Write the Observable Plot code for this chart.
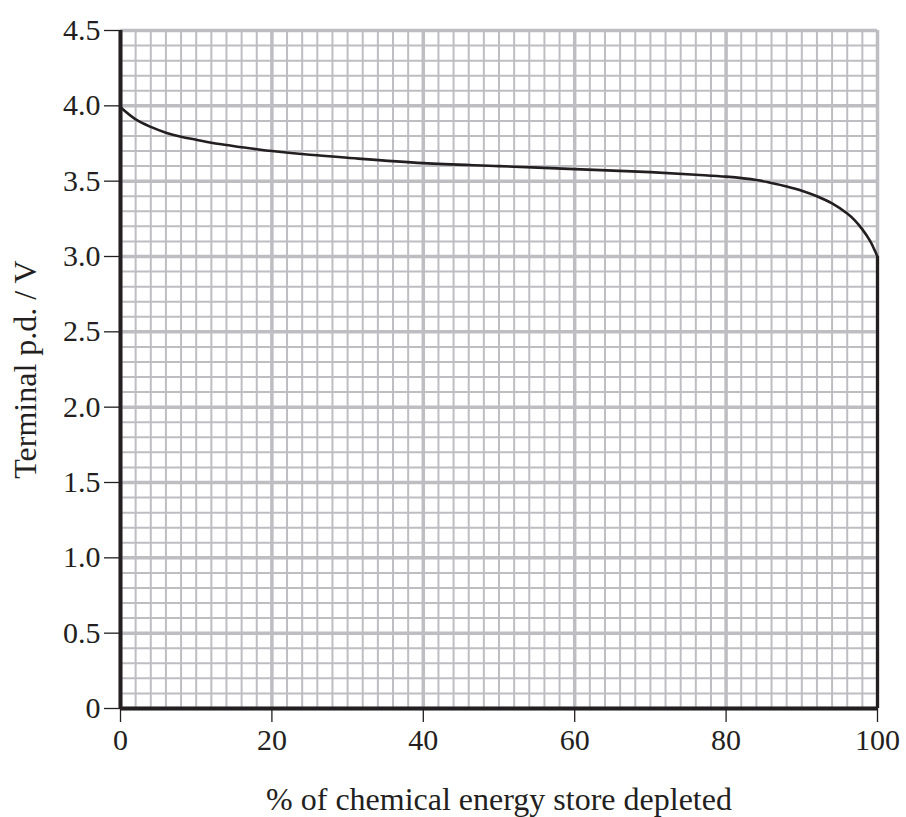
<!DOCTYPE html>
<html>
<head>
<meta charset="utf-8">
<script src="https://cdn.jsdelivr.net/npm/d3@7"></script>
<script src="https://cdn.jsdelivr.net/npm/@observablehq/plot@0.6"></script>
<style>
  html, body { margin: 0; padding: 0; background: #fff; }
</style>
</head>
<body>
<div id="chart"></div>
<script>
// Discharge curve
const depleted = [0, 2, 4, 6, 8, 10, 12, 14, 16, 18, 20, 25, 30, 40, 50, 60, 70, 76, 80, 84, 86, 88, 90, 92, 94, 96, 97, 98, 99, 99.5, 100];
const voltage  = [3.99, 3.91, 3.86, 3.822, 3.795, 3.775, 3.755, 3.74, 3.725, 3.712, 3.70, 3.675, 3.655, 3.62, 3.60, 3.58, 3.56, 3.543, 3.53, 3.508, 3.488, 3.465, 3.437, 3.40, 3.352, 3.285, 3.24, 3.18, 3.105, 3.055, 3.00];

// Axis ticks
const xTicks = [0, 20, 40, 60, 80, 100];
const yTicks = [0, 0.5, 1.0, 1.5, 2.0, 2.5, 3.0, 3.5, 4.0, 4.5];

// Grid lines (graph paper)
const xMinor = d3.range(0, 100.001, 2);
const xMajor = [0, 20, 40, 60, 80, 100];
const yMinor = d3.range(0, 4.5001, 0.1).map(v => +v.toFixed(1));
const yMajor = yTicks;

const curve = depleted.map((x, i) => ({x, y: voltage[i]}));
const endX = 100, endV = 3.0;

const gridColor = "#bebec2";
const ink = "#231f20";

const chart = Plot.plot({
  width: 906,
  height: 817,
  marginLeft: 120,
  marginRight: 29,
  marginTop: 30,
  marginBottom: 109,
  style: {fontFamily: "'Liberation Serif', 'Times New Roman', serif", fontSize: "30px", color: ink, background: "#fff"},
  x: {domain: [0, 100], label: null},
  y: {domain: [0, 4.5], label: null},
  marks: [
    Plot.ruleX(xMinor, {stroke: gridColor, strokeWidth: 2}),
    Plot.ruleY(yMinor, {stroke: gridColor, strokeWidth: 2}),
    Plot.ruleX(xMajor, {stroke: gridColor, strokeWidth: 3.5}),
    Plot.ruleY(yMajor, {stroke: gridColor, strokeWidth: 3.5}),
    Plot.axisX({ticks: xTicks, tickSize: 14, tickPadding: 6, tickFormat: d => String(d), stroke: ink, strokeWidth: 1.3, fontSize: 30}),
    Plot.axisX({ticks: [], label: "% of chemical energy store depleted", labelAnchor: "center", labelArrow: "none", labelOffset: 101, fontSize: 32}),
    Plot.axisY({ticks: yTicks, tickSize: 16, tickPadding: 4, tickFormat: d => d === 0 ? "0" : d.toFixed(1), stroke: ink, strokeWidth: 1.3, fontSize: 30}),
    Plot.axisY({ticks: [], label: "Terminal p.d. / V", labelAnchor: "center", labelArrow: "none", labelOffset: 107, fontSize: 32}),
    Plot.line(curve, {x: "x", y: "y", curve: "catmull-rom", stroke: ink, strokeWidth: 2.6}),
    Plot.ruleX([endX], {y1: 0, y2: endV, stroke: ink, strokeWidth: 3.2}),
    Plot.ruleX([0], {stroke: ink, strokeWidth: 4}),
    Plot.ruleY([0], {stroke: ink, strokeWidth: 4})
  ]
});
document.getElementById("chart").appendChild(chart);
</script>
</body>
</html>
